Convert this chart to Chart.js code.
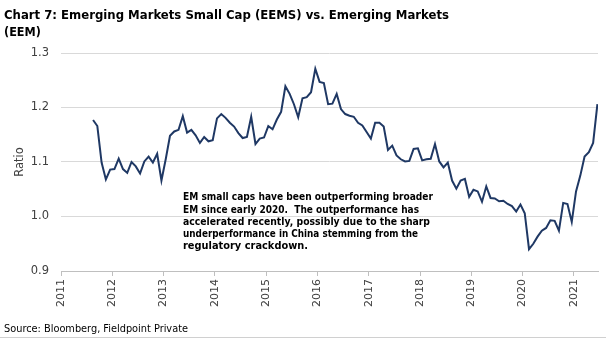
<!DOCTYPE html>
<html>
<head>
<meta charset="utf-8">
<script src="https://cdn.jsdelivr.net/npm/chart.js@4.4.1/dist/chart.umd.min.js"></script>
<style>
  html, body { margin: 0; padding: 0; background: #ffffff; }
  #wrap { width: 606px; height: 338px; }
</style>
</head>
<body>
<div id="wrap"><canvas id="ratioChart" width="606" height="338"></canvas></div>
<script>
// Dados do gráfico (mensal, ago/2011 a jun/2021)
const startYear = 2011;
const startMonth = 8;
const ratio = [
  1.177, 1.166, 1.099, 1.068, 1.086, 1.087, 1.106, 1.087, 1.080, 1.100,
  1.092, 1.079, 1.101, 1.110, 1.099, 1.115, 1.066, 1.105, 1.148, 1.156,
  1.159, 1.184, 1.154, 1.159, 1.149, 1.135, 1.146, 1.138, 1.140, 1.180,
  1.188, 1.181, 1.172, 1.165, 1.153, 1.144, 1.146, 1.183, 1.133, 1.143,
  1.145, 1.166, 1.160, 1.178, 1.192, 1.239, 1.225, 1.206, 1.182, 1.217,
  1.219, 1.228, 1.271, 1.247, 1.245, 1.206, 1.207, 1.225, 1.197, 1.188,
  1.185, 1.183, 1.172, 1.167, 1.155, 1.143, 1.172, 1.172, 1.165, 1.122,
  1.130, 1.112, 1.105, 1.101, 1.102, 1.124, 1.125, 1.103, 1.105, 1.106,
  1.133, 1.101, 1.090, 1.099, 1.066, 1.051, 1.066, 1.069, 1.036, 1.049,
  1.046, 1.027, 1.055, 1.034, 1.033, 1.028, 1.029, 1.023, 1.019, 1.009,
  1.022, 1.006, 0.940, 0.950, 0.963, 0.974, 0.979, 0.993, 0.992, 0.974,
  1.025, 1.023, 0.990, 1.046, 1.075, 1.110, 1.118, 1.135, 1.206
];
const yearTicks = [2011, 2012, 2013, 2014, 2015, 2016, 2017, 2018, 2019, 2020, 2021];
const yTicks = [0.9, 1.0, 1.1, 1.2, 1.3];

const titleLines = [
  'Chart 7: Emerging Markets Small Cap (EEMS) vs. Emerging Markets',
  '(EEM)'
];
const noteLines = [
  'EM small caps have been outperforming broader',
  'EM since early 2020.  The outperformance has',
  'accelerated recently, possibly due to the sharp',
  'underperformance in China stemming from the',
  'regulatory crackdown.'
];
const sourceText = 'Source: Bloomberg, Fieldpoint Private';

// Cores
const colors = {
  line: '#1f3864',
  grid: '#d9d9d9',
  axis: '#bfbfbf',
  tick: '#404040',
  text: '#000000',
  rule: '#d0d0d0',
};
const fontFamily = '"DejaVu Sans", Verdana, sans-serif';
const textFamily = '"DejaVu Sans Condensed", "DejaVu Sans", sans-serif';

// pontos no meio de cada mês
const points = ratio.map((v, i) => {
  const m = startMonth - 1 + i;
  return { x: startYear + (m + 0.5) / 12, y: v };
});

// escreve o texto ajustado a uma largura alvo
function fitText(ctx, text, x, y, weight, size, width) {
  ctx.font = weight + ' ' + size + 'px ' + textFamily;
  const w = ctx.measureText(text).width;
  const s = Math.min(1.15, width / w);
  ctx.save();
  ctx.translate(x, y);
  ctx.scale(s, 1);
  ctx.fillText(text, 0, 0);
  ctx.restore();
}

// textos fixos: título, nota e fonte
const textPlugin = {
  id: 'textos',
  afterDraw(chart) {
    const ctx = chart.ctx;
    ctx.save();
    ctx.fillStyle = colors.text;
    ctx.textAlign = 'left';
    ctx.textBaseline = 'alphabetic';
    fitText(ctx, titleLines[0], 4, 19, 'bold', 12.5, 445);
    ctx.font = 'bold 12.5px ' + textFamily;
    ctx.fillText(titleLines[1], 4, 35.5);

    ctx.textBaseline = 'middle';
    const noteWidths = [250, 236, 247, 235, 125];
    noteLines.forEach((line, i) => {
      fitText(ctx, line, 183, 197.5 + i * 12.2, 'bold', 11, noteWidths[i]);
    });

    fitText(ctx, sourceText, 4, 329.5, 'normal', 11, 184);

    // linha fina no rodapé
    ctx.strokeStyle = colors.rule;
    ctx.lineWidth = 1;
    ctx.beginPath();
    ctx.moveTo(0, 337.5);
    ctx.lineTo(606, 337.5);
    ctx.stroke();
    ctx.restore();
  }
};

new Chart(document.getElementById('ratioChart'), {
  type: 'line',
  data: {
    datasets: [{
      label: 'Ratio',
      data: points,
      borderColor: colors.line,
      borderWidth: 2,
      pointRadius: 0,
      tension: 0,
      fill: false,
    }]
  },
  options: {
    responsive: false,
    animation: false,
    layout: {
      padding: { top: 53, right: 8, left: 0, bottom: 0 }
    },
    plugins: {
      legend: { display: false },
      tooltip: { enabled: false },
    },
    scales: {
      x: {
        type: 'linear',
        min: 2011,
        max: 2021.47,
        afterBuildTicks: (scale) => {
          scale.ticks = yearTicks.map(v => ({ value: v }));
        },
        afterFit: (scale) => { scale.height = 67; },
        grid: {
          drawOnChartArea: false,
          drawTicks: true,
          tickLength: 5,
          color: colors.axis,
        },
        border: { display: true, color: colors.axis },
        ticks: {
          color: colors.tick,
          font: { family: fontFamily, size: 11 },
          minRotation: 90,
          maxRotation: 90,
          padding: 3,
          callback: (v) => String(v),
        }
      },
      y: {
        min: 0.9,
        max: 1.3,
        afterBuildTicks: (scale) => {
          scale.ticks = yTicks.map(v => ({ value: v }));
        },
        afterFit: (scale) => { scale.width = 61; },
        grid: {
          color: colors.grid,
          drawTicks: false,
        },
        border: { display: false },
        title: {
          display: true,
          text: 'Ratio',
          color: colors.tick,
          font: { family: fontFamily, size: 11.5 },
          padding: { top: 13, bottom: 0 },
        },
        ticks: {
          color: colors.tick,
          font: { family: fontFamily, size: 11.5 },
          padding: 12,
          callback: (v) => v.toFixed(1),
        }
      }
    }
  },
  plugins: [textPlugin]
});
</script>
</body>
</html>
